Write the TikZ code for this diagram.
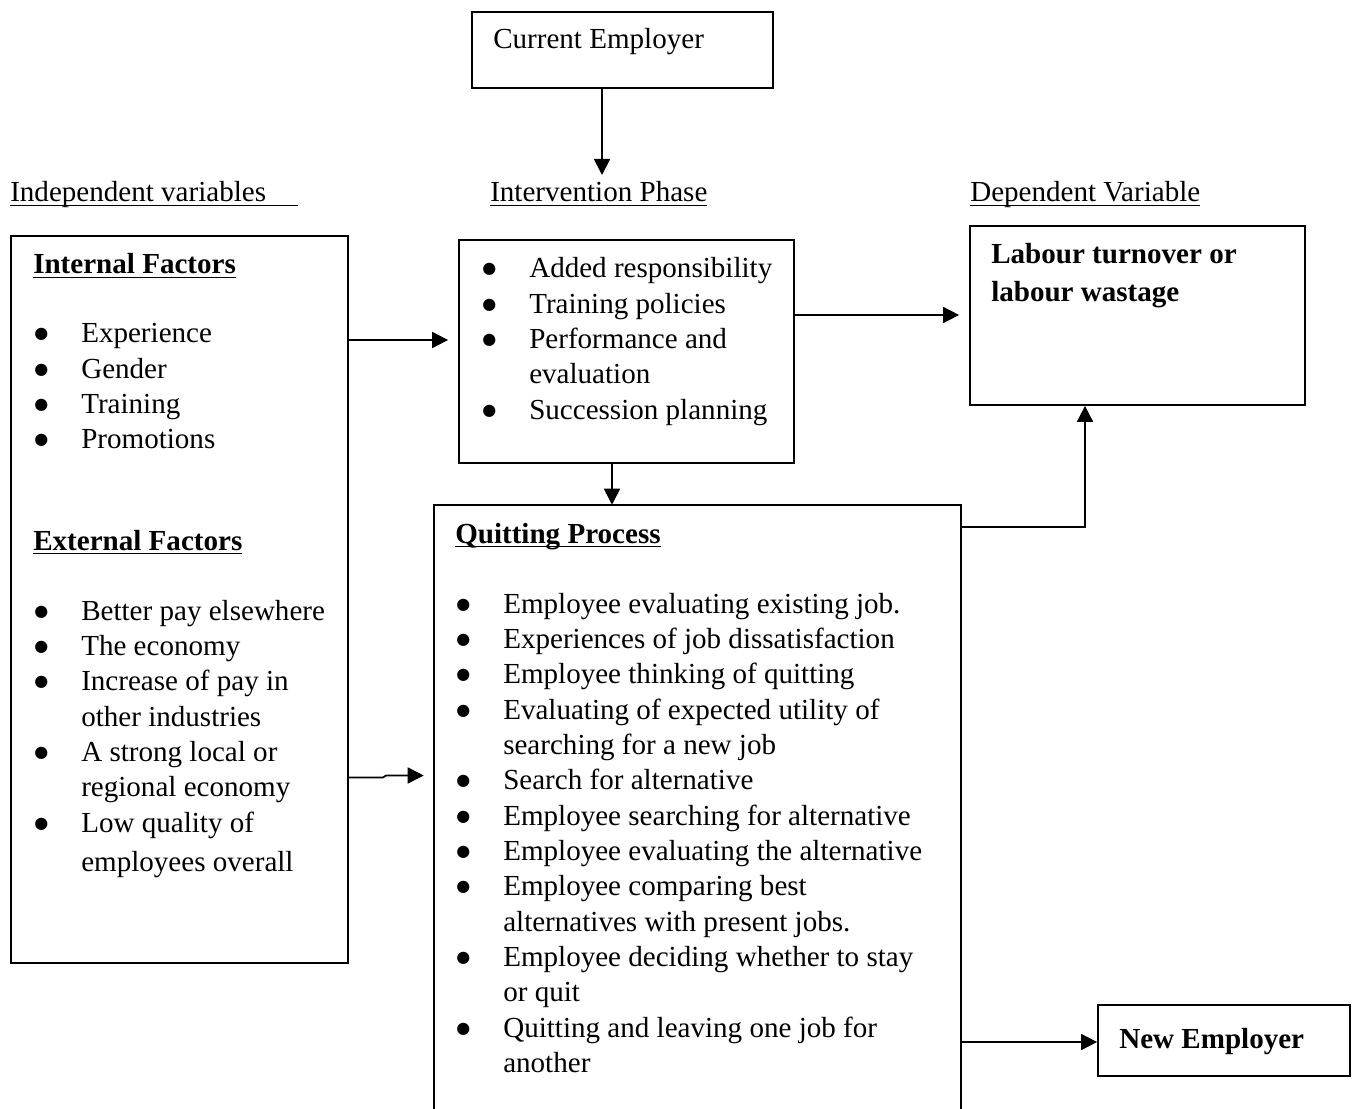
\documentclass[tikz,border=0pt]{standalone}
\usepackage{fontspec}
\setmainfont{Liberation Serif}
\newfontfamily\symfont{DejaVu Sans}
\usetikzlibrary{arrows.meta,fit}
\newcommand{\ulx}[2][0pt]{\setbox0\hbox{#2\hspace{#1}}\rlap{\rule[-3.3pt]{\wd0}{0.9pt}}\box0}
\newcommand{\bul}{\raisebox{3pt}{\fontsize{12}{12}\symfont ●}}
\newcommand{\blist}[1]{\begin{tabular}[t]{@{}p{35.25pt}@{}l@{}}#1\end{tabular}}
\tikzset{
  box/.style={draw, line width=1.3pt, inner sep=0pt},
  frame/.style={draw=none, inner sep=0pt},
  txt/.style={inner sep=0pt, anchor=base west, font=\fontsize{21.8}{26.5}\selectfont},
  arr/.style={line width=1.3pt, -{Triangle[length=12pt,width=12pt]}},
  ln/.style={line width=1.3pt, line join=miter},
}
\begin{document}
\begin{tikzpicture}[x=0.75pt, y=-0.75pt]
\useasboundingbox (0,0) rectangle (1357,1109);

% boxes
\node[box, fit={(472,12) (773,88)}] (cur) {};
\node[box, fit={(11,236) (348,963)}] (intl) {};
\node[box, fit={(459,240) (794,463)}] (interv) {};
\node[box, fit={(970,226) (1305,405)}] (dep) {};
\node[frame, fit={(434,505) (961,1109)}] (quit) {};
\draw[ln] (quit.south west) -- (quit.north west) -- (quit.north east) -- (quit.south east);
\node[box, fit={(1098,1005) (1350,1076)}] (newemp) {};

% texts
\node[txt] (curT) at (493,49) {Current Employer};
\node[txt] (indep) at (10,202) {\ulx[24pt]{Independent variables}};
\node[txt] (ivph) at (490,202) {\ulx{Intervention Phase}};
\node[txt] (depv) at (970,202) {\ulx{Dependent Variable}};

\node[txt] (intH) at (33,274) {\ulx{\bfseries Internal Factors}};
\node[txt] (intL) at (34,342.7) {\blist{
  \bul & Experience\\
  \bul & Gender\\
  \bul & Training\\
  \bul & Promotions}};

\node[txt] (extH) at (33,550) {\ulx{\bfseries External Factors}};
\node[txt] (extL) at (34,620) {\blist{
  \bul & Better pay elsewhere\\
  \bul & The economy\\
  \bul & Increase of pay in\\
       & other industries\\
  \bul & A strong local or\\
       & regional economy\\
  \bul & Low quality of\\[3pt]
       & employees overall}};

\node[txt] (ivL) at (482,278) {\blist{
  \bul & Added responsibility\\
  \bul & Training policies\\
  \bul & Performance and\\
       & evaluation\\
  \bul & Succession planning}};

\node[txt] (depT) at (991,264) {\bfseries\begin{tabular}[t]{@{}l@{}}Labour turnover or\\[2pt] labour wastage\end{tabular}};

\node[txt] (qH) at (455,543) {\ulx{\bfseries Quitting Process}};
\node[txt] (qL) at (456,613) {\blist{
  \bul & Employee evaluating existing job.\\
  \bul & Experiences of job dissatisfaction\\
  \bul & Employee thinking of quitting\\
  \bul & Evaluating of expected utility of\\
       & searching for a new job\\
  \bul & Search for alternative\\
  \bul & Employee searching for alternative\\
  \bul & Employee evaluating the alternative\\
  \bul & Employee comparing best\\
       & alternatives with present jobs.\\
  \bul & Employee deciding whether to stay\\
       & or quit\\
  \bul & Quitting and leaving one job for\\
       & another}};

\node[txt] (newT) at (1119,1048) {\bfseries New Employer};

% connectors
\coordinate (ctop) at (602,175);
\draw[arr] (cur.south -| ctop) -- (ctop);

\coordinate (y340) at (0,340);
\draw[arr, shorten >=7.5pt] (intl.east |- y340) -- (interv.west |- y340);

\coordinate (y315) at (0,315);
\draw[arr, shorten >=7.5pt] (interv.east |- y315) -- (dep.west |- y315);

\coordinate (x612) at (612,0);
\draw[arr] (interv.south -| x612) -- (quit.north -| x612);

\coordinate (y527) at (0,527);
\coordinate (x1085) at (1085,0);
\draw[arr] (quit.east |- y527) -| (dep.south -| x1085);

\coordinate (y777) at (0,777.5);
\coordinate (j1) at (383,777.5);
\coordinate (j2) at (386,775.5);
\draw[arr, shorten >=7.5pt] (intl.east |- y777) -- (j1) -- (j2) -- (quit.west |- j2);

\coordinate (y1042) at (0,1042);
\draw[arr] (quit.east |- y1042) -- (newemp.west |- y1042);
\end{tikzpicture}
\end{document}
